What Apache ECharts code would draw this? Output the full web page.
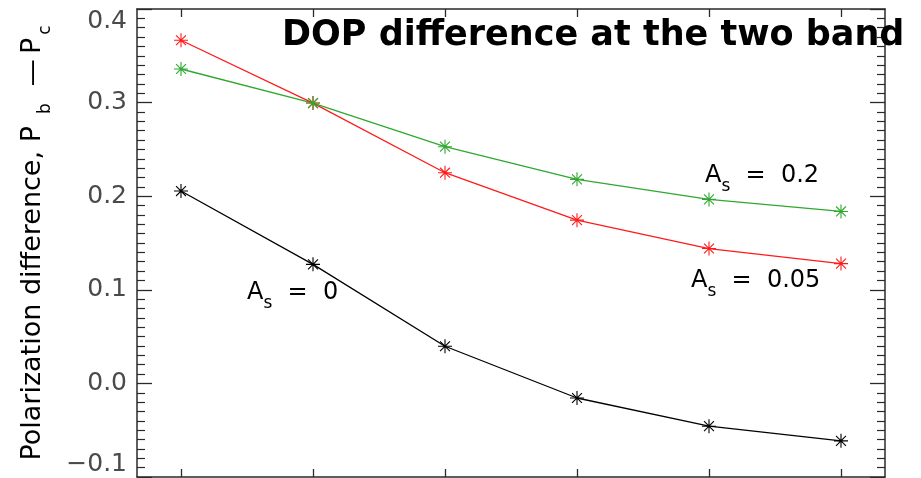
<!DOCTYPE html>
<html>
<head>
<meta charset="utf-8">
<script src="https://cdn.jsdelivr.net/npm/echarts@6/dist/echarts.min.js"></script>
<style>html,body{margin:0;padding:0;background:#fff}#c{width:921px;height:478px}</style>
</head>
<body>
<div id="c"></div>
<script>
// x positions of the six samples
const xPositions = [1, 2, 3, 4, 5, 6];
// series values
const valuesAs005 = [0.3666, 0.2995, 0.2251, 0.1744, 0.1441, 0.1280];
const valuesAs02  = [0.3359, 0.2995, 0.2529, 0.2180, 0.1966, 0.1837];
const valuesAs0   = [0.2055, 0.1272, 0.0397, -0.0156, -0.0457, -0.0614];
// y tick labels
const yTickValues = [-0.1, 0.0, 0.1, 0.2, 0.3, 0.4];
const titleText = 'DOP difference at the two band';

const chart = echarts.init(document.getElementById('c'), null, {renderer: 'canvas'});

const axisColor = '#2a2a2a';
const txtColor = '#4a4a4a';
const FONT = 'DejaVu Sans';
const star = 'path://M0,-1L0,1M-1,0L1,0M-0.7071,-0.7071L0.7071,0.7071M-0.7071,0.7071L0.7071,-0.7071';

const subRich = {
  m: {fontSize: 24, lineHeight: 24, verticalAlign: 'top', fontFamily: FONT, color: txtColor},
  s: {fontSize: 17, lineHeight: 17, verticalAlign: 'top', padding: [14, 0, 0, 0], fontFamily: FONT, color: txtColor}
};
const nameRich = {
  m: {fontSize: 27, lineHeight: 27, verticalAlign: 'top', fontFamily: FONT, color: txtColor},
  g: {fontSize: 16, lineHeight: 27, verticalAlign: 'top', fontFamily: FONT, color: txtColor},
  b: {fontSize: 17, lineHeight: 17, verticalAlign: 'top', padding: [18, 0, 0, 12], fontFamily: FONT, color: txtColor},
  c: {fontSize: 17, lineHeight: 17, verticalAlign: 'top', padding: [18, 0, 0, 3], fontFamily: FONT, color: txtColor}
};

function pair(arr) { return xPositions.map((x, i) => [x, arr[i]]); }

function mkSeries(name, arr, color) {
  return {
    name: name, type: 'line', data: pair(arr),
    symbol: star, symbolSize: 14,
    lineStyle: {color: color, width: 1.3},
    itemStyle: {color: color, borderColor: color, borderWidth: 1.1},
    emphasis: {disabled: true}, animation: false
  };
}

const xBase = {
  type: 'value', min: 2/3, max: 19/3,
  axisLine: {show: true, onZero: false, lineStyle: {color: axisColor, width: 1.5}},
  axisTick: {show: true, inside: true, length: 8, customValues: xPositions, lineStyle: {color: axisColor, width: 1.3}},
  axisLabel: {show: false},
  splitLine: {show: false}
};
const yBase = {
  type: 'value', min: -0.1, max: 0.4, interval: 0.1,
  axisLine: {show: true, onZero: false, lineStyle: {color: axisColor, width: 1.5}},
  axisTick: {show: true, inside: true, length: 15, lineStyle: {color: axisColor, width: 1.3}},
  minorTick: {show: true, splitNumber: 10, length: 8, lineStyle: {color: axisColor, width: 1.2}},
  splitLine: {show: false}
};

chart.setOption({
  animation: false,
  backgroundColor: '#fff',
  grid: {left: 137, right: 36, top: 9, bottom: 1, containLabel: false},
  title: {
    text: titleText, left: 282, top: 18, padding: 0,
    textStyle: {fontFamily: 'DejaVu Sans', fontWeight: 'bold', fontSize: 35, color: '#000'}
  },
  xAxis: [
    Object.assign({}, xBase, {position: 'bottom'}),
    Object.assign({}, xBase, {position: 'top'})
  ],
  yAxis: [
    Object.assign({}, yBase, {
      position: 'left',
      axisLabel: {
        show: true, margin: 10, fontFamily: FONT, fontSize: 25, color: txtColor,
        customValues: yTickValues,
        verticalAlignMinLabel: 'bottom', verticalAlignMaxLabel: 'top',
        formatter: v => v.toFixed(1).replace('-', '\u2212')
      }
    }),
    Object.assign({}, yBase, {position: 'right', axisLabel: {show: false}})
  ],
  graphic: [
    {type: 'text', x: 33, y: 243, rotation: Math.PI / 2, z: 10,
     style: {text: '{m|Polarization difference, P}{b|b}{m|  \u2014}{g| }{m|P}{c|c}',
             rich: nameRich, align: 'center', verticalAlign: 'middle'}},
    {type: 'text', left: 705, top: 164, z: 10,
     style: {text: '{m|A}{s|s}{m|  =  0.2}', rich: subRich}},
    {type: 'text', left: 691, top: 269, z: 10,
     style: {text: '{m|A}{s|s}{m|  =  0.05}', rich: subRich}},
    {type: 'text', left: 247, top: 281, z: 10,
     style: {text: '{m|A}{s|s}{m|  =  0}', rich: subRich}}
  ],
  series: [
    mkSeries('As=0', valuesAs0, '#000000'),
    mkSeries('As=0.05', valuesAs005, '#ff1a1a'),
    mkSeries('As=0.2', valuesAs02, '#2ea82e')
  ]
});
</script>
</body>
</html>
